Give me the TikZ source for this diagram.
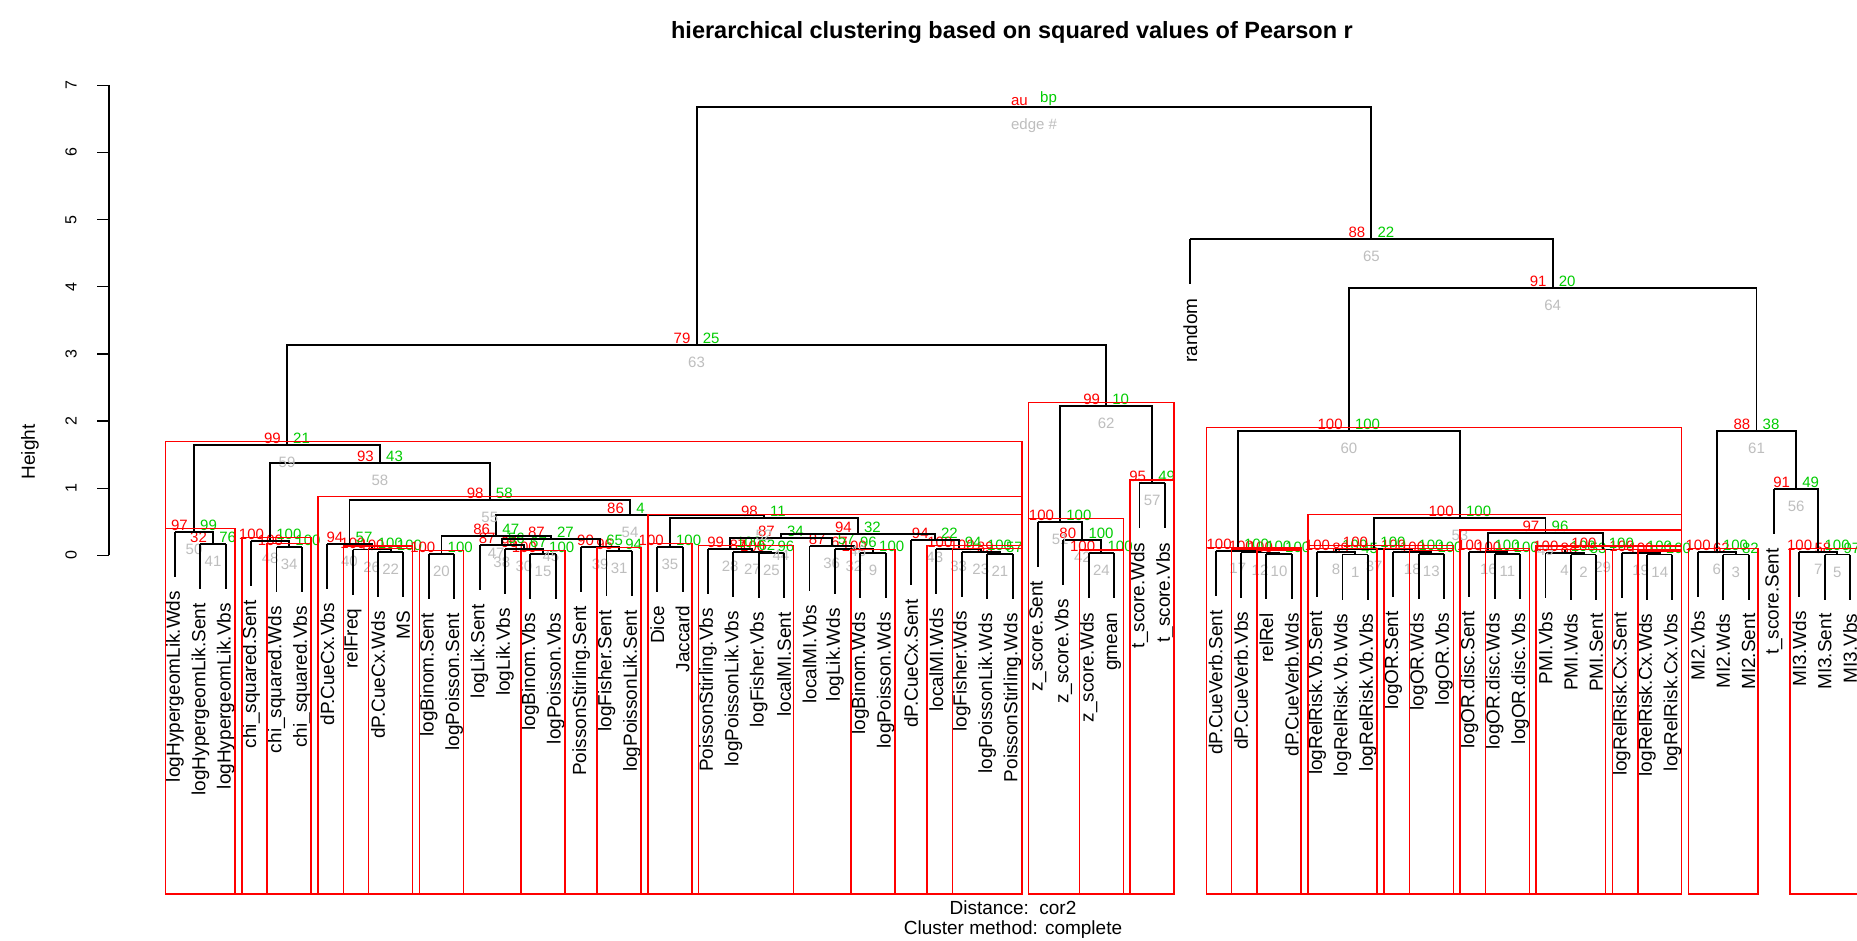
\documentclass[tikz,border=0pt]{standalone}
\usepackage{fontspec}
\setmainfont{Liberation Sans}
\usetikzlibrary{calc}
\definecolor{aured}{RGB}{255,0,0}
\definecolor{bpgreen}{RGB}{0,205,0}
\definecolor{edgegrey}{RGB}{190,190,190}
\makeatletter
\newcommand\dsetX[2]{\expandafter\xdef\csname dX@#1\endcsname{#2}}
\newcommand\dsetY[2]{\expandafter\xdef\csname dY@#1\endcsname{#2}}
\newcommand\dX[1]{\csname dX@#1\endcsname}
\newcommand\dY[1]{\csname dY@#1\endcsname}
\makeatother
\newcommand\pvfont{\fontsize{15}{15}\selectfont}
\newcommand\leaffont{\fontsize{19}{19}\selectfont}
% merge: name, child1, child2, y, au, bp, edge
\newcommand\mrg[7]{%
  \pgfmathsetmacro\mX{(\dX{#2}+\dX{#3})/2}%
  \dsetX{#1}{\mX}%
  \ifcsname dY@#2\endcsname\else\dsetY{#2}{#4}\coordinate (#2) at (\dX{#2},#4);\fi
  \ifcsname dY@#3\endcsname\else\dsetY{#3}{#4}\coordinate (#3) at (\dX{#3},#4);\fi
  \dsetY{#1}{#4}%
  \coordinate (#1) at (\mX,#4);
  \draw[dend] (#2) |- (#1) -| (#3);
  \node[aul] (#1-au) at (\mX-6,#4-1) {#5};
  \node[bpl] (#1-bp) at (\mX+6,#4-1) {#6};
  \node[edl] (#1-ed) at (\mX,#4+12) {#7};
}
\newcommand\pvrect[3]{%
  \pgfmathsetmacro\pvL{\dX{L#1}-9.3}%
  \pgfmathsetmacro\pvR{\dX{L#2}+9.3}%
  \pgfmathsetmacro\pvT{\dY{#3}-3.3}%
  \draw[pvr] (\pvL,\pvT) rectangle (\pvR,894);
}
\tikzset{
  dend/.style={draw=black, line width=1.9pt},
  pvr/.style={draw=red, line width=1.5pt},
  aul/.style={anchor=south east, inner sep=0pt, text=aured, font=\pvfont},
  bpl/.style={anchor=south west, inner sep=0pt, text=bpgreen, font=\pvfont},
  edl/.style={anchor=north, inner sep=0pt, text=edgegrey, font=\pvfont},
  leaflab/.style={rotate=90, anchor=east, inner sep=0pt, font=\leaffont},
  axisl/.style={draw=black, line width=1.3pt},
  ticklab/.style={rotate=90, inner sep=0pt, font=\fontsize{16}{16}\selectfont},
}
\begin{document}
\begin{tikzpicture}[x=1pt, y=-1pt]
\fill[white] (0,0) rectangle (1857,941);
\useasboundingbox (0,0) rectangle (1857,941);
\foreach \i in {1,...,67}{\pgfmathsetmacro\tmp{175+(\i-1)*25.38}\dsetX{L\i}{\tmp}}
% title and axis
\node[font=\bfseries\fontsize{23.5}{24}\selectfont] (title) at (1012,32) {hierarchical clustering based on squared values of Pearson r};
\draw[axisl] (109,85.3) -- (109,555.4);
\foreach \h in {0,...,7}{\pgfmathsetmacro\yy{555.4-\h*67.16}
  \draw[axisl] (109,\yy) -- (97,\yy);
  \node[ticklab] (t\h) at (71,\yy) {\h};}
\node[rotate=90, font=\fontsize{19}{19}\selectfont] (ylab) at (30,452) {Height};
\node[font=\fontsize{19}{19}\selectfont] (dist) at (1013,908) {Distance:\ \ cor2};
\node[font=\fontsize{19}{19}\selectfont] (meth) at (1013,930) {Cluster method: complete};
% left part
\mrg{e41}{L2}{L3}{544}{32}{76}{41}
\mrg{e50}{L1}{e41}{531.7}{97}{99}{50}
\mrg{e34}{L5}{L6}{547}{100}{100}{34}
\mrg{e48}{L4}{e34}{541}{100}{100}{48}
\mrg{e22}{L9}{L10}{552}{100}{100}{22}
\mrg{e26}{L8}{e22}{549.5}{100}{100}{26}
\mrg{e40}{L7}{e26}{544}{94}{57}{40}
\mrg{e20}{L11}{L12}{554}{100}{100}{20}
\mrg{e15}{L15}{L16}{554}{100}{100}{15}
\mrg{e30}{L14}{e15}{549}{96}{67}{30}
\mrg{e38}{L13}{e30}{545}{87}{56}{38}
\mrg{e31}{L18}{L19}{551}{96}{94}{31}
\mrg{e39}{L17}{e31}{546.7}{90}{65}{39}
\mrg{e45}{e38}{e39}{539}{87}{27}{45}
\mrg{e47}{e20}{e45}{535.7}{86}{47}{47}
\mrg{e35}{L20}{L21}{546.7}{100}{100}{35}
\mrg{e25}{L24}{L25}{553}{100}{96}{25}
\mrg{e27}{L23}{e25}{552}{87}{62}{27}
\mrg{e28}{L22}{e27}{549}{99}{100}{28}
\mrg{e9}{L28}{L29}{553}{100}{100}{9}
\mrg{e32}{L27}{e9}{549}{67}{96}{32}
\mrg{e36}{L26}{e32}{546}{87}{57}{36}
\mrg{e44}{e28}{e36}{537.7}{87}{34}{44}
\mrg{e21}{L33}{L34}{554}{89}{57}{21}
\mrg{e23}{L32}{e21}{552}{100}{100}{23}
\mrg{e33}{L31}{e23}{549}{100}{94}{33}
\mrg{e43}{L30}{e33}{540}{94}{22}{43}
\mrg{e46}{e44}{e43}{534.3}{94}{32}{46}
\mrg{e52}{e35}{e46}{518}{98}{11}{52}
\mrg{e54}{e47}{e52}{515}{86}{4}{54}
\mrg{e55}{e40}{e54}{500}{98}{58}{55}
\mrg{e58}{e48}{e55}{463}{93}{43}{58}
\mrg{e59}{e50}{e58}{445}{99}{21}{59}
\mrg{e24}{L37}{L38}{553.3}{100}{100}{24}
\mrg{e42}{L36}{e24}{540}{80}{100}{42}
\mrg{e51}{L35}{e42}{521.7}{100}{100}{51}
\mrg{e57}{L39}{L40}{483.3}{95}{49}{57}
\mrg{e62}{e51}{e57}{406}{99}{10}{62}
\mrg{e63}{e59}{e62}{344.6}{79}{25}{63}
% right part
\mrg{e10}{L44}{L45}{554}{100}{100}{10}
\mrg{e12}{L43}{e10}{552.5}{100}{100}{12}
\mrg{e17}{L42}{e12}{551}{100}{100}{17}
\mrg{e1}{L47}{L48}{554.5}{89}{45}{1}
\mrg{e8}{L46}{e1}{552}{100}{100}{8}
\mrg{e13}{L50}{L51}{554}{100}{100}{13}
\mrg{e18}{L49}{e13}{552}{100}{100}{18}
\mrg{e37}{e8}{e18}{549}{100}{100}{37}
\mrg{e11}{L53}{L54}{554}{100}{100}{11}
\mrg{e16}{L52}{e11}{552}{100}{100}{16}
\mrg{e2}{L56}{L57}{554.5}{88}{53}{2}
\mrg{e4}{L55}{e2}{553}{100}{100}{4}
\mrg{e14}{L59}{L60}{554.5}{100}{100}{14}
\mrg{e19}{L58}{e14}{553}{100}{100}{19}
\mrg{e29}{e4}{e19}{549.5}{100}{100}{29}
\mrg{e49}{e16}{e29}{533.3}{97}{96}{49}
\mrg{e53}{e37}{e49}{517.7}{100}{100}{53}
\mrg{e60}{e17}{e53}{431}{100}{100}{60}
\mrg{e3}{L62}{L63}{554.5}{62}{82}{3}
\mrg{e6}{L61}{e3}{552}{100}{100}{6}
\mrg{e5}{L66}{L67}{554.5}{58}{97}{5}
\mrg{e7}{L65}{e5}{552}{100}{100}{7}
\mrg{e56}{L64}{e7}{489}{91}{49}{56}
\mrg{e61}{e6}{e56}{431}{88}{38}{61}
\mrg{e64}{e60}{e61}{287.8}{91}{20}{64}
\mrg{e65}{L41}{e64}{239.2}{88}{22}{65}
\mrg{root}{e63}{e65}{106.6}{au}{bp}{edge \#}
% leaves
\foreach \i/\t in {1/logHypergeomLik.Wds,2/logHypergeomLik.Sent,3/logHypergeomLik.Vbs,
  4/chi\_squared.Sent,5/chi\_squared.Wds,6/chi\_squared.Vbs,7/dP.CueCx.Vbs,8/relFreq,
  9/dP.CueCx.Wds,10/MS,11/logBinom.Sent,12/logPoisson.Sent,13/logLik.Sent,14/logLik.Vbs,
  15/logBinom.Vbs,16/logPoisson.Vbs,17/PoissonStirling.Sent,18/logFisher.Sent,
  19/logPoissonLik.Sent,20/Dice,21/Jaccard,22/PoissonStirling.Vbs,23/logPoissonLik.Vbs,
  24/logFisher.Vbs,25/localMI.Sent,26/localMI.Vbs,27/logLik.Wds,28/logBinom.Wds,
  29/logPoisson.Wds,30/dP.CueCx.Sent,31/localMI.Wds,32/logFisher.Wds,33/logPoissonLik.Wds,
  34/PoissonStirling.Wds,35/z\_score.Sent,36/z\_score.Vbs,37/z\_score.Wds,38/gmean,
  39/t\_score.Wds,40/t\_score.Vbs,41/random,42/dP.CueVerb.Sent,43/dP.CueVerb.Vbs,44/relRel,
  45/dP.CueVerb.Wds,46/logRelRisk.Vb.Sent,47/logRelRisk.Vb.Wds,48/logRelRisk.Vb.Vbs,
  49/logOR.Sent,50/logOR.Wds,51/logOR.Vbs,52/logOR.disc.Sent,53/logOR.disc.Wds,
  54/logOR.disc.Vbs,55/PMI.Vbs,56/PMI.Wds,57/PMI.Sent,58/logRelRisk.Cx.Sent,
  59/logRelRisk.Cx.Wds,60/logRelRisk.Cx.Vbs,61/MI2.Vbs,62/MI2.Wds,63/MI2.Sent,
  64/t\_score.Sent,65/MI3.Wds,66/MI3.Sent,67/MI3.Vbs}{
  \draw[dend] (L\i) -- ($(L\i)+(0,45)$) coordinate (L\i-end);
  \node[leaflab] (L\i-lab) at ($(L\i)+(0,59)$) {\t};
}
% rectangles (au >= 95)
\pvrect{1}{3}{e50}
\pvrect{5}{6}{e34}
\pvrect{4}{6}{e48}
\pvrect{9}{10}{e22}
\pvrect{8}{10}{e26}
\pvrect{11}{12}{e20}
\pvrect{15}{16}{e15}
\pvrect{18}{19}{e31}
\pvrect{20}{21}{e35}
\pvrect{22}{25}{e28}
\pvrect{28}{29}{e9}
\pvrect{32}{34}{e23}
\pvrect{31}{34}{e33}
\pvrect{20}{34}{e52}
\pvrect{7}{34}{e55}
\pvrect{1}{34}{e59}
\pvrect{37}{38}{e24}
\pvrect{35}{38}{e51}
\pvrect{39}{40}{e57}
\pvrect{35}{40}{e62}
\pvrect{44}{45}{e10}
\pvrect{43}{45}{e12}
\pvrect{42}{45}{e17}
\pvrect{46}{48}{e8}
\pvrect{50}{51}{e13}
\pvrect{49}{51}{e18}
\pvrect{46}{51}{e37}
\pvrect{53}{54}{e11}
\pvrect{52}{54}{e16}
\pvrect{55}{57}{e4}
\pvrect{59}{60}{e14}
\pvrect{58}{60}{e19}
\pvrect{55}{60}{e29}
\pvrect{52}{60}{e49}
\pvrect{46}{60}{e53}
\pvrect{42}{60}{e60}
\pvrect{61}{63}{e6}
\pvrect{65}{67}{e7}
\end{tikzpicture}
\end{document}
